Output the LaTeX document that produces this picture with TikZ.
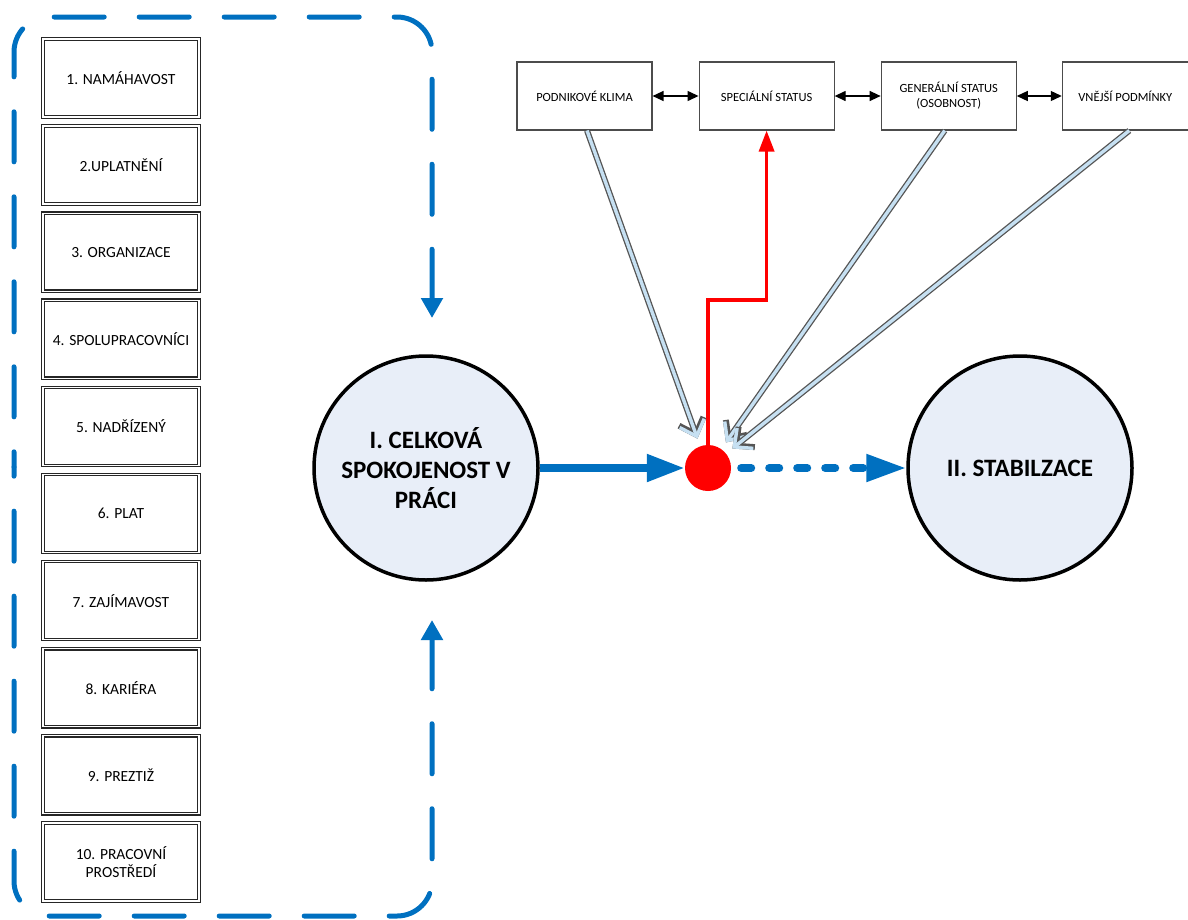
\documentclass[tikz,border=0pt]{standalone}
\usepackage{fontspec}
\setmainfont{Carlito}
\usetikzlibrary{positioning,arrows.meta}
\definecolor{frameblue}{RGB}{0,112,192}
\definecolor{circlefill}{RGB}{232,238,248}
\definecolor{hollowfill}{RGB}{198,224,242}
\definecolor{hollowedge}{RGB}{85,85,85}

\begin{document}
\begin{tikzpicture}[x=1pt,y=-1pt,
	node distance=7.9pt,
	factorbox/.style={draw=black!85,double=white,double distance=1.3pt,line width=1.2pt,
		minimum width=156pt,minimum height=78pt,align=center,font=\fontsize{15.5}{18}\selectfont},
	topbox/.style={draw=black!70,line width=1.1pt,minimum width=135pt,minimum height=68pt,
		align=center,font=\fontsize{12.5}{15}\selectfont},
	bigcircle/.style={circle,draw,line width=3.5pt,fill=circlefill,minimum size=224pt,
		align=center,font=\fontsize{25}{30}\selectfont\bfseries},
	framedash/.style={frameblue,line width=5pt,line cap=round,dash pattern=on 50pt off 35pt,
		rounded corners=35pt,{Triangle[length=20pt,width=21pt]}-},
	flowsolid/.style={frameblue,line width=8pt,-{Triangle[length=38pt,width=26pt]}},
	flowdash/.style={frameblue,line width=8pt,line cap=round,dash pattern=on 10pt off 18pt,
		shorten <=10pt,-{Triangle[length=40pt,width=26pt]}},
	linkarrow/.style={black,line width=1.3pt,{Triangle[length=11pt,width=10pt]}-{Triangle[length=11pt,width=10pt]}},
	redline/.style={red,line width=3.5pt,-{Triangle[length=21pt,width=15pt]}},
	hollowarrow/.style={draw=hollowedge,line width=6pt,shorten >=8pt,
		-{Straight Barb[length=14pt,width=26pt,line join=miter]},
		postaction={draw=hollowfill,line width=3.4pt,-{Straight Barb[length=14pt,width=26pt,line join=miter]}}},
	]
	\useasboundingbox (0,0) rectangle (1188,919);

	% factors
	\node [factorbox] (f1) at (121,78) {1. NAMÁHAVOST};
	\node [factorbox,below=of f1] (f2) {2.UPLATNĚNÍ};
	\node [factorbox,below=of f2] (f3) {3. ORGANIZACE};
	\node [factorbox,below=of f3] (f4) {4. SPOLUPRACOVNÍCI};
	\node [factorbox,below=of f4] (f5) {5. NADŘÍZENÝ};
	\node [factorbox,below=of f5] (f6) {6. PLAT};
	\node [factorbox,below=of f6] (f7) {7. ZAJÍMAVOST};
	\node [factorbox,below=of f7] (f8) {8. KARIÉRA};
	\node [factorbox,below=of f8] (f9) {9. PREZTIŽ};
	\node [factorbox,below=of f9] (f10) {10. PRACOVNÍ\\PROSTŘEDÍ};

	% dashed frame
	\coordinate (fa) at (432,318);
	\coordinate (fb) at (432,620);
	\draw [framedash] (fa) -- (432,17) -- (14,17) -- (14,467);
	\draw [framedash] (fb) -- (432,916) -- (14,916) -- (14,467);

	% top row
	\node [topbox] (klima) at (584.5,96) {PODNIKOVÉ KLIMA};
	\node [topbox,right=46pt of klima] (special) {SPECIÁLNÍ STATUS};
	\node [topbox,right=46pt of special] (general) {GENERÁLNÍ STATUS\\(OSOBNOST)};
	\node [topbox,right=45pt of general,minimum width=126pt] (vnejsi) {VNĚJŠÍ PODMÍNKY};
	\draw [linkarrow] (klima) -- (special);
	\draw [linkarrow] (special) -- (general);
	\draw [linkarrow] (general) -- (vnejsi);

	% main flow
	\node [bigcircle] (celk) at (426,468) {I. CELKOVÁ\\SPOKOJENOST V\\PRÁCI};
	\node [bigcircle] (stab) at (1020,468) {II. STABILZACE};
	\node [circle,fill=red,minimum size=46pt,inner sep=0pt] (dot) at (708,468) {};
	\draw [flowsolid] (celk) -- (dot);
	\draw [flowdash] (dot) -- (stab);

	\draw [redline] (dot.north) -- ++(0,-145) -| (special.south);
	\draw [hollowarrow] ([xshift=2.5pt]klima.south) -- (dot);
	\draw [hollowarrow] ([xshift=-4pt]general.south) -- (dot);
	\draw [hollowarrow] ([xshift=4pt]vnejsi.south) -- (dot);
\end{tikzpicture}
\end{document}
